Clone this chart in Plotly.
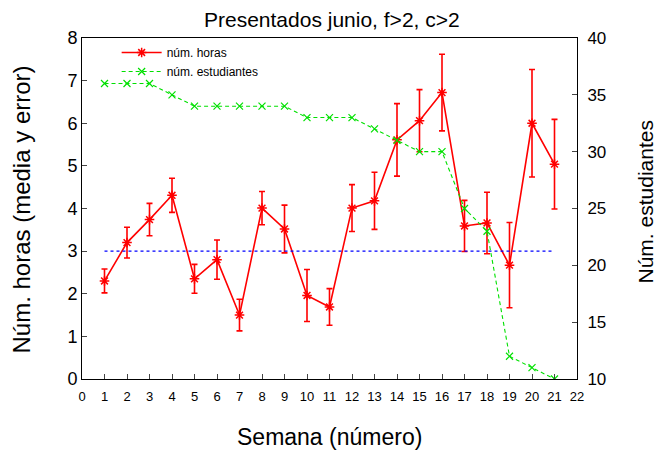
import plotly.graph_objects as go

semanas = list(range(1, 22))
horas = [2.30, 3.20, 3.74, 4.31, 2.35, 2.80, 1.50, 4.01, 3.52, 1.96, 1.69,
         4.01, 4.18, 5.61, 6.06, 6.72, 3.59, 3.66, 2.67, 6.00, 5.04]
error = [0.28, 0.36, 0.38, 0.40, 0.34, 0.46, 0.37, 0.39, 0.56, 0.61, 0.43,
         0.55, 0.67, 0.85, 0.73, 0.90, 0.60, 0.72, 1.00, 1.26, 1.05]
estudiantes = [36, 36, 36, 35, 34, 34, 34, 34, 34, 33, 33,
               33, 32, 31, 30, 30, 25, 23, 12, 11, 10]
media_x = [1, 21]
media_y = [3, 3]
x_ticks = list(range(0, 23))

FONT = "Liberation Sans, Arial, Helvetica, sans-serif"
RED = "#ff0000"
GREEN = "#00e000"

fig = go.Figure()
fig.add_trace(go.Scatter(
    x=semanas, y=horas, name="núm. horas", mode="lines+markers",
    line=dict(color=RED, width=1.6),
    marker=dict(symbol="asterisk-open", size=8, color=RED,
                line=dict(color=RED, width=1.5)),
    error_y=dict(type="data", array=error, visible=True, color=RED,
                 thickness=1.6, width=3),
))
fig.add_trace(go.Scatter(
    x=semanas, y=estudiantes, name="núm. estudiantes", mode="lines+markers",
    yaxis="y2",
    line=dict(color=GREEN, width=1.1, dash="4px,3px"),
    marker=dict(symbol="x-thin-open", size=7, color=GREEN,
                line=dict(color=GREEN, width=1.2)),
))
fig.add_trace(go.Scatter(
    x=media_x, y=media_y, mode="lines", showlegend=False,
    line=dict(color="#0000ff", width=1.2, dash="dot"), hoverinfo="skip",
))

annotations = [
    dict(text="Presentados junio, f>2, c>2", x=0.506, y=1.0557, xref="paper", yref="paper",
         xanchor="center", yanchor="middle", showarrow=False, font=dict(size=21)),
    dict(text="Semana (número)", x=0.499, y=-0.170, xref="paper", yref="paper",
         xanchor="center", yanchor="middle", showarrow=False, font=dict(size=23)),
    dict(text="Núm. horas (media y error)", x=-0.1212, y=0.497, xref="paper", yref="paper",
         xanchor="center", yanchor="middle", showarrow=False, textangle=-90,
         font=dict(size=24)),
    dict(text="Núm. estudiantes", x=1.139, y=0.52, xref="paper", yref="paper",
         xanchor="center", yanchor="middle", showarrow=False, textangle=-90,
         font=dict(size=21)),
]

fig.update_layout(
    width=656, height=450,
    margin=dict(l=82, r=79, t=38, b=71, autoexpand=False),
    paper_bgcolor="white", plot_bgcolor="white",
    font=dict(family=FONT, color="black"),
    annotations=annotations,
    xaxis=dict(range=[0, 22], tickvals=x_ticks, ticks="inside", ticklen=5,
               showline=True, linecolor="black", linewidth=1, mirror=True,
               showgrid=False, zeroline=False, tickfont=dict(size=13), automargin=False,
               ticklabelstandoff=5),
    yaxis=dict(range=[0, 8], dtick=1, ticks="inside", ticklen=5, automargin=False,
               showline=True, linecolor="black", linewidth=1,
               showgrid=False, zeroline=False, tickfont=dict(size=18)),
    yaxis2=dict(range=[10, 40], dtick=5, ticks="inside", ticklen=5, overlaying="y",
                side="right", showline=True, linecolor="black", linewidth=1, automargin=False,
                showgrid=False, zeroline=False, tickfont=dict(size=17),
                ticklabelstandoff=6),
    legend=dict(x=0.07, y=1.0, xanchor="left", yanchor="top", bgcolor="rgba(0,0,0,0)",
                font=dict(size=12), tracegroupgap=0, itemwidth=40),
    showlegend=True,
)

fig.write_html(
    "out.html",
    config={"displayModeBar": False},
    post_script="document.body.style.margin='0';document.body.style.overflow='hidden';",
)
